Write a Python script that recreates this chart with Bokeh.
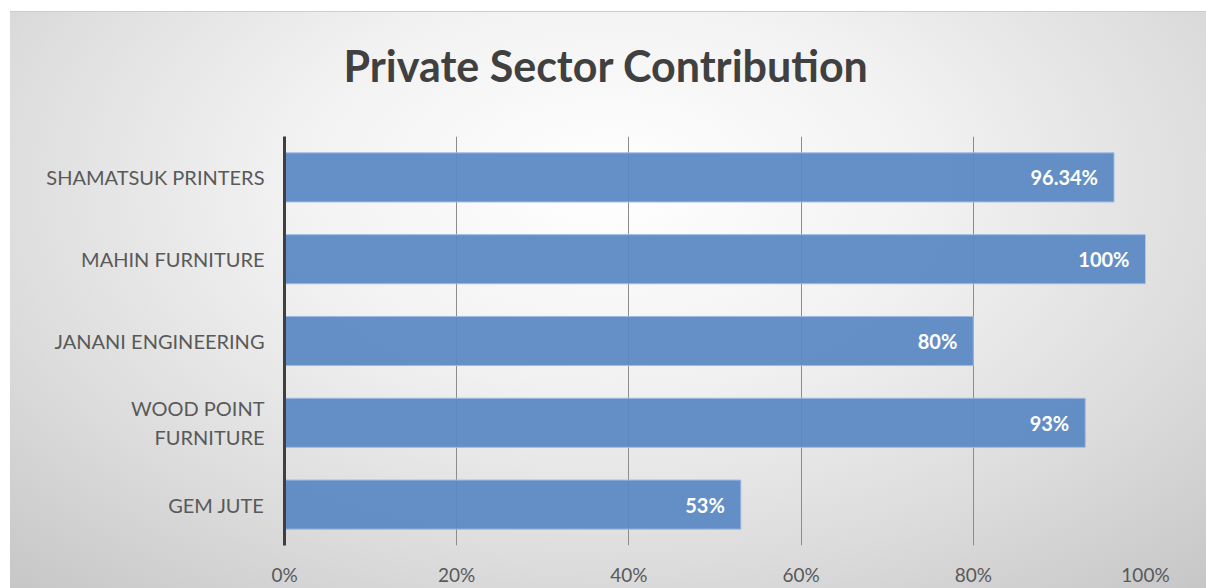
from bokeh.plotting import figure
from bokeh.models import Range1d, FactorRange, Title, NumeralTickFormatter, FixedTicker, ColumnDataSource
from bokeh.core.properties import value
from bokeh.embed import file_html
from bokeh.resources import INLINE

# data (bottom to top)
companies = ["GEM JUTE", "WOOD POINT\nFURNITURE", "JANANI ENGINEERING", "MAHIN FURNITURE", "SHAMATSUK PRINTERS"]
shares = [0.53, 0.93, 0.80, 1.00, 0.9634]
share_labels = ["53%", "93%", "80%", "100%", "96.34%"]
x_ticks = [0, 0.2, 0.4, 0.6, 0.8, 1.0]
chart_title = "Private Sector Contribution"

FONT = "Lato"
GRAY = "#595959"

src = ColumnDataSource(dict(company=companies, share=shares, label=share_labels))

p = figure(width=1196, height=577, y_range=FactorRange(*companies), x_range=Range1d(0, 1),
           output_backend="svg", toolbar_location=None, title=None,
           min_border_left=274, min_border_right=61, min_border_top=124, min_border_bottom=44)
p.margin = (11, 0, 0, 10)
p.border_fill_alpha = 0
p.background_fill_alpha = 0
p.outline_line_color = None
p.styles = {"background": "radial-gradient(ellipse 75% 95% at 50% 30%, #ffffff 0%, #f2f2f2 35%, #dcdcdc 70%, #c6c6c6 100%)",
            "border-top": "1px solid #cccccc"}

# empty spacer panel between frame and title
spacer = Title(text=" ", text_font=FONT, text_font_size="10px", standoff=32)
p.add_layout(spacer, "above")
t = Title(text=chart_title, text_font=FONT, text_font_size="43px",
          text_font_style="bold", text_color="#404040", align="left", offset=59,
          standoff=0)
p.add_layout(t, "above")

p.xgrid.ticker = FixedTicker(ticks=x_ticks)
p.xgrid.grid_line_color = "#8c8c8c"
p.xgrid.grid_line_width = 1
p.ygrid.grid_line_color = None

p.hbar(y="company", right="share", height=0.6, source=src,
       fill_color="#5a89c4", fill_alpha=0.94, line_color="#9dbbe2", line_width=1)

p.text(x="share", y="company", text="label", source=src, x_offset=-16,
       text_align="right", text_baseline="middle", text_color="white",
       text_font=value(FONT), text_font_size="20px", text_font_style="bold")

p.xaxis.ticker = FixedTicker(ticks=x_ticks)
p.xaxis.formatter = NumeralTickFormatter(format="0%")
p.xaxis.axis_line_color = None
p.xaxis.major_tick_line_color = None
p.xaxis.minor_tick_line_color = None
p.xaxis.major_label_text_font = FONT
p.xaxis.major_label_text_font_size = "19px"
p.xaxis.major_label_text_color = GRAY
p.xaxis.major_label_standoff = 11

p.yaxis.axis_line_color = "#3f3f3f"
p.yaxis.axis_line_width = 3
p.yaxis.major_tick_line_color = None
p.yaxis.minor_tick_line_color = None
p.yaxis.major_label_text_font = FONT
p.yaxis.major_label_text_font_size = "20px"
p.yaxis.major_label_text_color = GRAY
p.yaxis.major_label_text_line_height = 1.2
p.yaxis.major_label_standoff = 14

html = file_html(p, INLINE)
html = html.replace("<body>", "<body style=\"margin:0;background:#ffffff\">", 1)
open("out.html", "w").write(html)
